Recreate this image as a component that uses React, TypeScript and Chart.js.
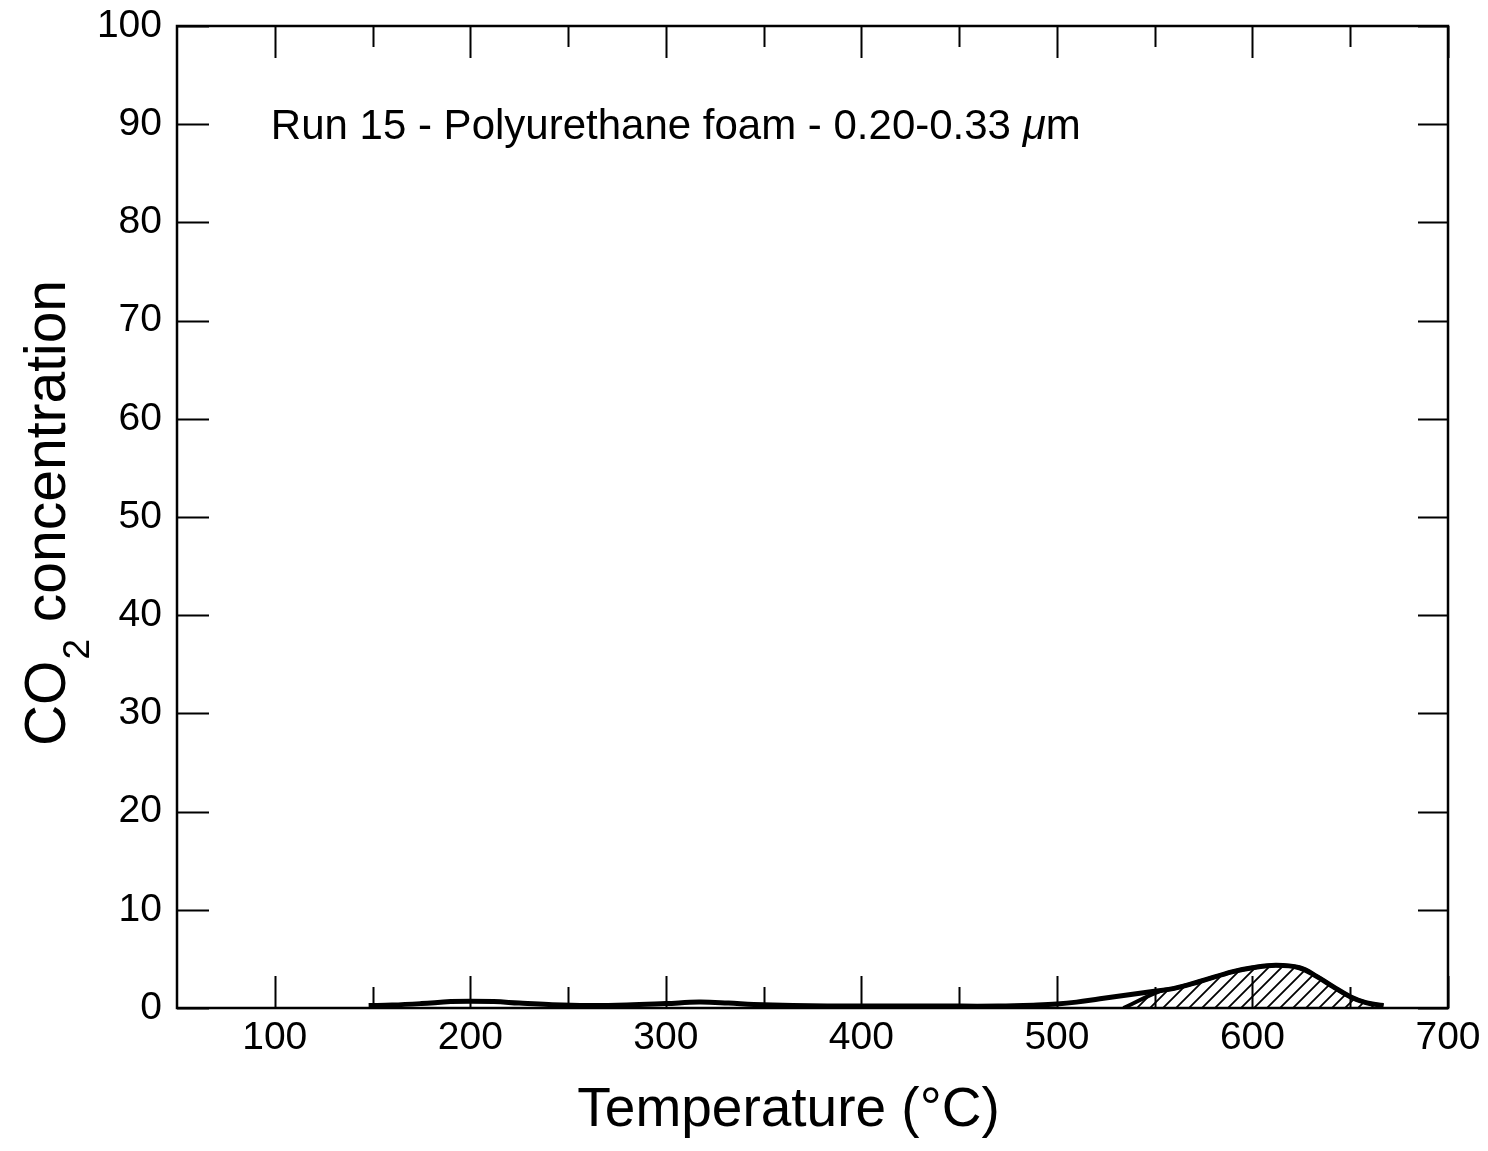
import React, { useEffect, useRef } from 'react';
import { Chart, registerables } from 'chart.js';

Chart.register(...registerables);

// ---- data ----
const temperatureC = [148, 160, 175, 190, 200, 212, 225, 240, 260, 280, 300, 317, 332, 345, 365, 400, 440, 470, 490, 500, 510, 522, 535, 548, 560, 573, 590, 600, 612, 624, 633, 641, 650, 658, 667];
const co2Concentration = [0.25, 0.3, 0.45, 0.65, 0.7, 0.65, 0.5, 0.35, 0.25, 0.3, 0.45, 0.6, 0.5, 0.35, 0.25, 0.2, 0.2, 0.2, 0.3, 0.4, 0.6, 0.95, 1.3, 1.65, 2.0, 2.7, 3.7, 4.1, 4.35, 4.1, 3.2, 2.2, 1.15, 0.55, 0.25];
const hatchLeadTemps = [534, 553];
const hatchLeadValues = [0, 1.75];
const hatchStartTemp = 560;

const xTickValues = [100, 200, 300, 400, 500, 600, 700];
const xMinorTickValues = [150, 250, 350, 450, 550, 650];
const yTickValues = [0, 10, 20, 30, 40, 50, 60, 70, 80, 90, 100];

const annotationText = 'Run 15 - Polyurethane foam - 0.20-0.33 ';
const annotationItalic = 'μ';
const annotationTail = 'm';
const annotationTemp = 98;
const annotationValue = 89.7;

const xTitle = 'Temperature (°C)';
const yTitleMain = 'CO';
const yTitleSub = '2';
const yTitleRest = ' concentration';

const FONT = '"Liberation Sans", Arial, Helvetica, sans-serif';

export default function App() {
  const canvasRef = useRef<HTMLCanvasElement | null>(null);

  useEffect(() => {
    const canvas = canvasRef.current;
    if (!canvas) return;
    const ctx = canvas.getContext('2d');
    if (!ctx) return;

    // hatch pattern
    const pc = document.createElement('canvas');
    const S = 13;
    pc.width = S;
    pc.height = S;
    const p = pc.getContext('2d')!;
    p.strokeStyle = '#000';
    p.lineWidth = 1.8;
    p.beginPath();
    p.moveTo(-2, S + 2);
    p.lineTo(S + 2, -2);
    p.moveTo(-2, 2);
    p.lineTo(2, -2);
    p.moveTo(S - 2, S + 2);
    p.lineTo(S + 2, S - 2);
    p.stroke();
    const pattern = ctx.createPattern(pc, 'repeat');

    const mainData = temperatureC.map((x, i) => ({ x, y: co2Concentration[i] }));
    const hatchData = [
      ...hatchLeadTemps.map((x, i) => ({ x, y: hatchLeadValues[i] })),
      ...mainData.filter((d) => d.x >= hatchStartTemp),
    ];

    const framePlugin = {
      id: 'frameAndTicks',
      afterDraw(chart: any) {
        const c = chart.ctx;
        const a = chart.chartArea;
        const xs = chart.scales.x;
        const ys = chart.scales.y;
        c.save();
        c.strokeStyle = '#000';
        c.lineWidth = 2;
        c.beginPath();
        const major = 32;
        const minor = 21;
        xTickValues.forEach((v) => {
          const px = Math.round(xs.getPixelForValue(v)) + 0.5;
          c.moveTo(px, a.bottom);
          c.lineTo(px, a.bottom - major);
          c.moveTo(px, a.top);
          c.lineTo(px, a.top + major);
        });
        xMinorTickValues.forEach((v) => {
          const px = Math.round(xs.getPixelForValue(v)) + 0.5;
          c.moveTo(px, a.bottom);
          c.lineTo(px, a.bottom - minor);
          c.moveTo(px, a.top);
          c.lineTo(px, a.top + minor);
        });
        yTickValues.forEach((v) => {
          const py = Math.round(ys.getPixelForValue(v)) + 0.5;
          c.moveTo(a.left, py);
          c.lineTo(a.left + major, py);
          c.moveTo(a.right, py);
          c.lineTo(a.right - major + 2, py);
        });
        c.stroke();
        c.lineWidth = 2.5;
        c.strokeRect(a.left, a.top, a.right - a.left, a.bottom - a.top);

        // annotation
        c.fillStyle = '#000';
        c.textBaseline = 'middle';
        c.textAlign = 'left';
        const tx = xs.getPixelForValue(annotationTemp);
        const ty = ys.getPixelForValue(annotationValue);
        c.font = `42px ${FONT}`;
        c.fillText(annotationText, tx, ty);
        let w = c.measureText(annotationText).width;
        c.font = `italic 42px ${FONT}`;
        c.fillText(annotationItalic, tx + w, ty);
        w += c.measureText(annotationItalic).width;
        c.font = `42px ${FONT}`;
        c.fillText(annotationTail, tx + w, ty);

        // x title
        c.font = `55px ${FONT}`;
        c.textAlign = 'center';
        c.textBaseline = 'middle';
        c.fillText(xTitle, (a.left + a.right) / 2 - 24, chart.height - 40);

        // y title with subscript
        c.save();
        c.translate(a.left - 112, (a.top + a.bottom) / 2 - 3);
        c.rotate(-Math.PI / 2);
        c.textAlign = 'left';
        c.textBaseline = 'alphabetic';
        const mainFont = `57px ${FONT}`;
        const subFont = `37px ${FONT}`;
        c.font = mainFont;
        const w1 = c.measureText(yTitleMain).width;
        const w3 = c.measureText(yTitleRest).width;
        c.font = subFont;
        const w2 = c.measureText(yTitleSub).width;
        let sx = -(w1 + w2 + w3) / 2;
        c.font = mainFont;
        c.fillText(yTitleMain, sx, 0);
        sx += w1;
        c.font = subFont;
        c.fillText(yTitleSub, sx + 1, 24);
        sx += w2 + 2;
        c.font = mainFont;
        c.fillText(yTitleRest, sx, 0);
        c.restore();
        c.restore();
      },
    };

    const chart = new Chart(ctx, {
      type: 'scatter',
      data: {
        datasets: [
          {
            label: 'CO2',
            data: mainData,
            showLine: true,
            borderColor: '#000',
            borderWidth: 5,
            pointRadius: 0,
            tension: 0.4,
            fill: false,
            order: 0,
          },
          {
            label: 'hatched',
            data: hatchData,
            showLine: true,
            borderColor: '#000',
            borderWidth: 4,
            pointRadius: 0,
            tension: 0.4,
            backgroundColor: pattern as any,
            fill: 'origin',
            order: 1,
          },
        ],
      },
      options: {
        responsive: false,
        animation: false,
        layout: { padding: { top: 26, right: 40, left: 0, bottom: 0 } },
        plugins: {
          legend: { display: false },
          tooltip: { enabled: false },
        },
        scales: {
          x: {
            type: 'linear',
            min: 50,
            max: 700,
            afterBuildTicks: (s: any) => {
              s.ticks = xTickValues.map((v) => ({ value: v }));
            },
            afterFit: (s: any) => {
              s.height = 143;
              s.paddingLeft = 0;
              s.paddingRight = 0;
            },
            grid: { display: false, drawTicks: false },
            border: { display: false },
            ticks: {
              color: '#000',
              font: { family: FONT, size: 39 },
              padding: 7,
              maxRotation: 0,
              autoSkip: false,
            },
          },
          y: {
            type: 'linear',
            min: 0,
            max: 100,
            afterBuildTicks: (s: any) => {
              s.ticks = yTickValues.map((v) => ({ value: v }));
            },
            afterFit: (s: any) => {
              s.width = 177;
              s.paddingTop = 0;
              s.paddingBottom = 0;
            },
            grid: { display: false, drawTicks: false },
            border: { display: false },
            ticks: {
              color: '#000',
              font: { family: FONT, size: 39 },
              padding: 15,
              autoSkip: false,
            },
          },
        },
      },
      plugins: [framePlugin],
    } as any);

    return () => chart.destroy();
  }, []);

  return (
    <div style={{ position: 'absolute', left: 0, top: 0, width: 1488, height: 1151, background: '#fff' }}>
      <canvas ref={canvasRef} width={1488} height={1151} style={{ display: 'block' }} />
    </div>
  );
}
